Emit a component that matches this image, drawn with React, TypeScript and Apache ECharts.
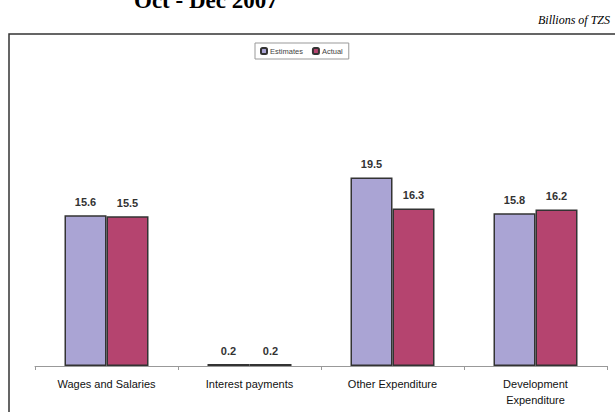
import React, { useEffect, useRef } from "react";
import * as echarts from "echarts";

const categories = ["Wages and Salaries", "Interest payments", "Other Expenditure", "Development\nExpenditure"];
const estimates = [15.6, 0.2, 19.5, 15.8];
const actual = [15.5, 0.2, 16.3, 16.2];
const seriesNames = ["Estimates", "Actual"];
const titleText = "Oct - Dec 2007";
const unitText = "Billions of TZS";

export default function App() {
  const ref = useRef<HTMLDivElement>(null);
  useEffect(() => {
    const chart = echarts.init(ref.current!, null, { renderer: "svg" });
    const labelStyle = {
      show: true,
      position: "top",
      distance: 8,
      fontFamily: "Liberation Sans, Arial, sans-serif",
      fontSize: 11,
      fontWeight: "bold",
      color: "#333",
    };
    chart.setOption({
      animation: false,
      backgroundColor: "#fff",
      graphic: [
        {
          type: "rect",
          shape: { x: 9, y: 34, width: 640, height: 420 },
          style: { fill: "none", stroke: "#333", lineWidth: 1.5 },
          silent: true,
          z: -1,
        },
        {
          type: "text",
          x: 134,
          y: 12,
          style: {
            text: titleText,
            font: "bold 23px 'Liberation Serif', 'Times New Roman', serif",
            fill: "#000",
            verticalAlign: "bottom",
          },
        },
        {
          type: "text",
          x: 610,
          y: 20,
          style: {
            text: unitText,
            font: "italic 12px 'Liberation Serif', 'Times New Roman', serif",
            fill: "#000",
            align: "right",
            verticalAlign: "middle",
          },
        },
      ],
      legend: {
        data: seriesNames,
        left: 255,
        top: 43,
        orient: "horizontal",
        itemWidth: 6,
        itemHeight: 6,
        itemGap: 9,
        padding: [4, 6, 4, 5],
        borderColor: "#999",
        borderWidth: 1,
        textStyle: { fontSize: 7.5, color: "#444", fontFamily: "Liberation Sans, Arial, sans-serif", padding: [0, 0, 0, -2] },
      },
      grid: { left: 35, right: 8, top: 76, bottom: 46 },
      xAxis: {
        type: "category",
        data: categories,
        boundaryGap: true,
        axisLine: { lineStyle: { color: "#999", width: 1 } },
        axisTick: { show: true, length: 4, lineStyle: { color: "#999" } },
        axisLabel: {
          interval: 0,
          margin: 10,
          fontSize: 11,
          lineHeight: 16,
          color: "#111",
          fontFamily: "Liberation Sans, Arial, sans-serif",
        },
      },
      yAxis: {
        type: "value",
        min: 0,
        max: 30,
        show: false,
        splitLine: { show: false },
      },
      series: [
        {
          name: seriesNames[0],
          type: "bar",
          data: estimates,
          barWidth: 42,
          barGap: "0%",
          itemStyle: { color: "#aaa4d4", borderColor: "#333", borderWidth: 1.5 },
          label: labelStyle,
        },
        {
          name: seriesNames[1],
          type: "bar",
          data: actual,
          barWidth: 42,
          barGap: "0%",
          itemStyle: { color: "#b5446f", borderColor: "#333", borderWidth: 1.5 },
          label: labelStyle,
        },
      ],
    });
    return () => chart.dispose();
  }, []);
  return <div ref={ref} style={{ position: "fixed", left: 0, top: 0, width: 615, height: 412 }} />;
}
